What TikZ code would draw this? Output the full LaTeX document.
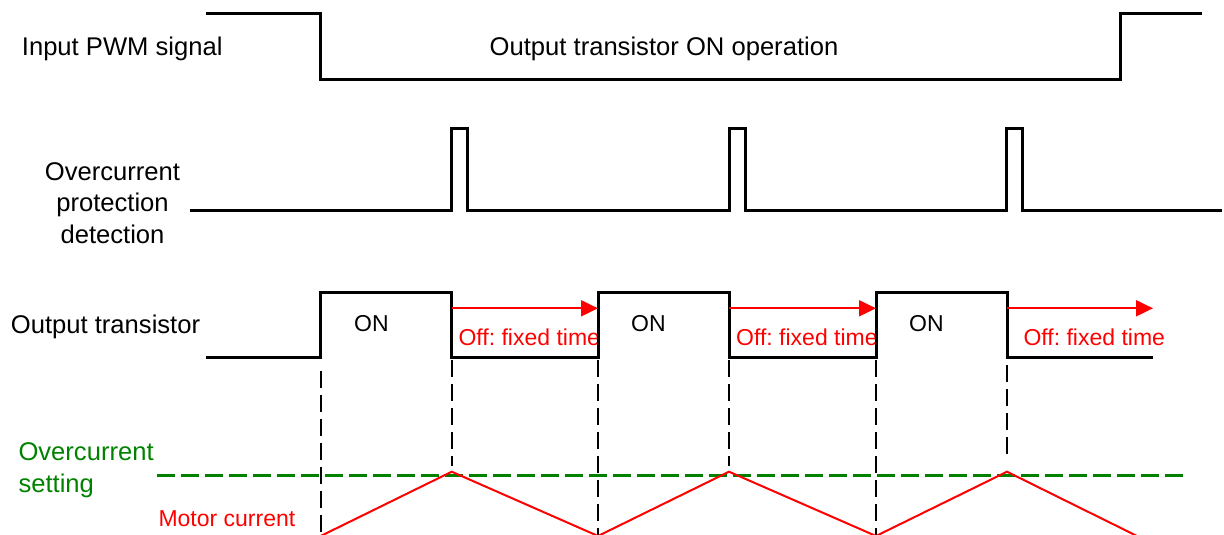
\documentclass[tikz,border=0pt]{standalone}
\usepackage{fontspec}
\setmainfont{Liberation Sans}
\usetikzlibrary{arrows.meta}
\definecolor{ocgreen}{RGB}{0,130,0}
\frenchspacing
\begin{document}
\begin{tikzpicture}[x=1pt,y=-1pt,
  sig/.style={line width=3pt, line join=miter, black},
  guide/.style={line width=2pt, black, dash pattern=on 17pt off 7pt},
  setline/.style={line width=2.6pt, ocgreen, dash pattern=on 17.5pt off 6.5pt},
  curr/.style={line width=2pt, red, line join=miter},
  offarrow/.style={line width=2pt, red, -{Triangle[length=17pt,width=16pt]}},
  biglbl/.style={font=\fontsize{25.6}{31.7}\selectfont, inner sep=0pt},
  smllbl/.style={font=\fontsize{23}{28}\selectfont, inner sep=0pt}]
\useasboundingbox (0,0) rectangle (1224,535);

% ---- labels ----
\node[biglbl, anchor=base west] (lpwm) at (21.7,56) {Input PWM signal};
\node[biglbl, anchor=base] (lonop) at (664,55.5) {Output transistor ON operation};
\node[biglbl, anchor=north, align=center] (ldet) at (112.5,162) {Overcurrent\\protection\\detection};
\node[biglbl, anchor=base west] (lout) at (10.7,333) {Output transistor};
\node[biglbl, anchor=north west, align=left, text=ocgreen] (lset) at (18.3,442.5) {Overcurrent\\setting};
\node[smllbl, anchor=base west, text=red] (lmot) at (158.3,526.7) {Motor current};

\node[smllbl, anchor=base west] (on1) at (354,331) {ON};
\node[smllbl, anchor=base west] (on2) at (631,331) {ON};
\node[smllbl, anchor=base west] (on3) at (909,331) {ON};

\node[smllbl, anchor=base west, text=red] (off1) at (458.3,345.7) {Off: fixed time};
\node[smllbl, anchor=base west, text=red] (off2) at (736,345.7) {Off: fixed time};
\node[smllbl, anchor=base west, text=red] (off3) at (1023.3,345.7) {Off: fixed time};

% ---- input PWM ----
\draw[sig] (206,14) -- (320.3,14) -- (320.3,79.3) -- (1120,79.3) -- (1120,14) -- (1202,14);

% ---- overcurrent detection ----
\draw[sig] (190,210) -- (451.3,210) -- (451.3,128.3) -- (467.8,128.3) -- (467.8,210)
  -- (729.3,210) -- (729.3,128.3) -- (745.8,128.3) -- (745.8,210)
  -- (1006.3,210) -- (1006.3,128.3) -- (1022.8,128.3) -- (1022.8,210) -- (1222,210);

% ---- output transistor ----
\draw[sig] (206,357.3) -- (320.7,357.3) -- (320.7,292.3) -- (451.7,292.3) -- (451.7,357.3)
  -- (598,357.3) -- (598,292.3) -- (729,292.3) -- (729,357.3)
  -- (876,357.3) -- (876,292.3) -- (1007,292.3) -- (1007,357.3) -- (1153,357.3);

% ---- off-time arrows ----
\coordinate (f1) at (451.7,308.3);
\coordinate (r2) at (598,308.3);
\coordinate (f2) at (729,308.3);
\coordinate (r3) at (876,308.3);
\coordinate (f3) at (1007,308.3);
\coordinate (e3) at (1153,308.3);
\draw[offarrow] (f1) -- (r2);
\draw[offarrow] (f2) -- (r3);
\draw[offarrow] (f3) -- (e3);

% ---- guide lines ----
\draw[guide] (320.7,371) -- (320.7,535);
\draw[guide] (451.7,360) -- (451.7,466);
\draw[guide] (598,360) -- (598,535);
\draw[guide] (729,360) -- (729,466);
\draw[guide] (876,360) -- (876,535);
\draw[guide] (1007,365) -- (1007,455);

% ---- overcurrent setting ----
\draw[setline] (157,475.5) -- (1187,475.5);

% ---- motor current ----
\draw[curr] (320.7,536) -- (451.7,471.7) -- (598,536) -- (729,471.7) -- (876,536) -- (1007,471.7) -- (1137,536);
\end{tikzpicture}
\end{document}
